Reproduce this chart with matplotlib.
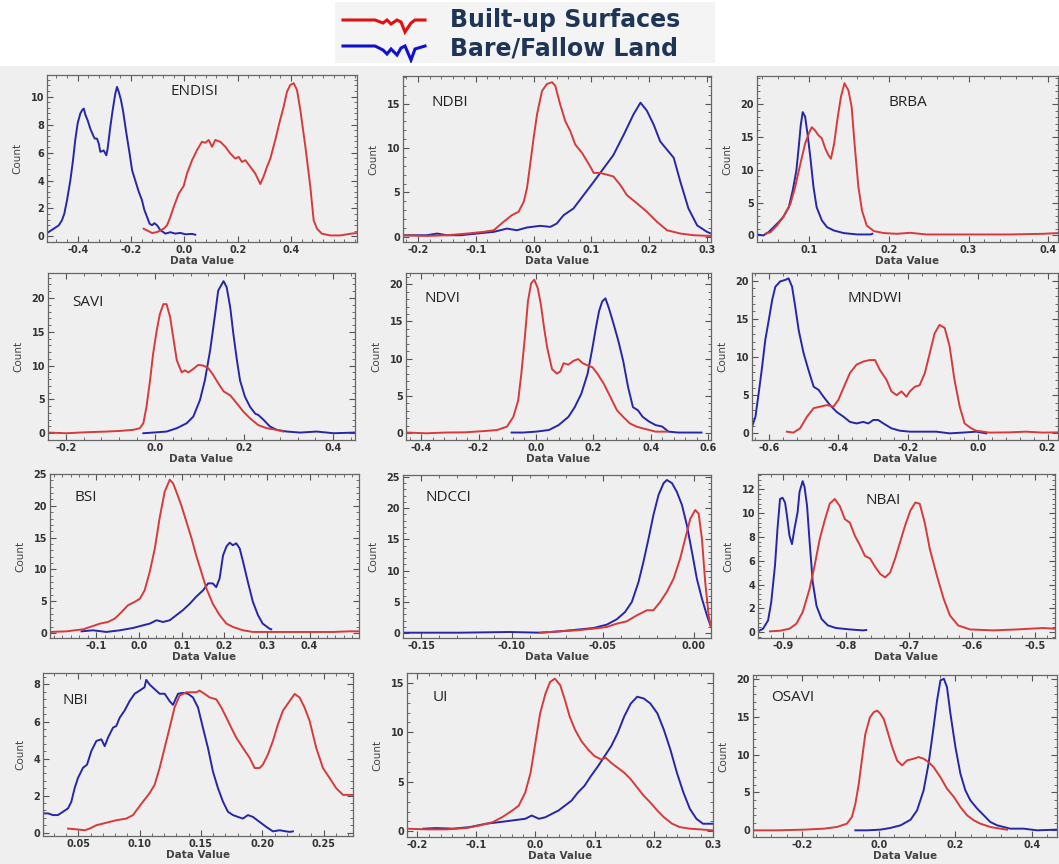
import matplotlib
matplotlib.use('Agg')
import matplotlib.pyplot as plt
from matplotlib.ticker import AutoMinorLocator, FormatStrFormatter
from matplotlib.patches import Rectangle

plt.rcParams['axes.unicode_minus'] = False

# ---------------- data (Data Value, Count) ----------------
series_names = ['Built-up Surfaces', 'Bare/Fallow Land']
index_names = ['ENDISI', 'NDBI', 'BRBA', 'SAVI', 'NDVI', 'MNDWI',
               'BSI', 'NDCCI', 'NBAI', 'NBI', 'UI', 'OSAVI']

endisi_built = [(-0.1525,0.55),(-0.14,0.43),(-0.121,0.24),(-0.1025,0.31),(-0.0775,0.55),(-0.065,0.79),(-0.0525,1.39),(-0.04,2.1),(-0.021,3.06),(-0.0025,3.6),(0.01,4.5),(0.029,5.45),(0.0475,6.17),(0.066,6.77),(0.079,6.7),(0.091,6.9),(0.104,6.41),(0.116,6.9),(0.135,6.77),(0.154,6.41),(0.1725,5.93),(0.191,5.57),(0.204,5.69),(0.216,5.33),(0.229,5.45),(0.2475,4.98),(0.266,4.5),(0.285,3.75),(0.2975,4.3),(0.31,4.98),(0.3225,5.57),(0.341,6.9),(0.3575,8.2),(0.3725,9.28),(0.385,10.36),(0.3975,10.84),(0.41,10.96),(0.4225,10.48),(0.435,9.04),(0.454,6.41),(0.4725,3.54),(0.485,1.15),(0.4975,0.55),(0.516,0.19),(0.5475,0.07),(0.585,0.07),(0.6225,0.19),(0.6475,0.24)]
endisi_bare = [(-0.515,0.24),(-0.49,0.55),(-0.471,0.79),(-0.459,1.15),(-0.45,1.63),(-0.44,2.58),(-0.4275,4.0),(-0.4175,5.45),(-0.409,6.9),(-0.4,8.1),(-0.39,8.8),(-0.3825,9.05),(-0.377,9.15),(-0.371,8.7),(-0.3625,8.3),(-0.3525,7.7),(-0.3425,7.25),(-0.336,7.0),(-0.3275,7.0),(-0.321,6.65),(-0.315,6.05),(-0.3025,6.15),(-0.2925,5.8),(-0.2875,6.3),(-0.2775,7.85),(-0.269,9.0),(-0.259,10.2),(-0.2525,10.7),(-0.246,10.35),(-0.2375,9.75),(-0.23,9.0),(-0.2175,7.4),(-0.205,5.9),(-0.196,4.75),(-0.184,4.0),(-0.171,3.2),(-0.159,2.6),(-0.15,1.9),(-0.14,1.4),(-0.13,0.9),(-0.121,0.8),(-0.1125,0.95),(-0.1025,0.8),(-0.09,0.45),(-0.071,0.2),(-0.0525,0.3),(-0.034,0.2),(-0.015,0.25),(0.004,0.15),(0.029,0.18),(0.041,0.12)]

ndbi_built = [(-0.226,0.19),(-0.185,0.11),(-0.15,0.19),(-0.115,0.38),(-0.0865,0.57),(-0.069,0.75),(-0.052,1.7),(-0.0375,2.45),(-0.026,2.83),(-0.017,3.96),(-0.0115,5.47),(-0.006,8.1),(0.0,11.1),(0.006,13.8),(0.0145,16.4),(0.023,17.2),(0.032,17.4),(0.0375,17.0),(0.046,14.9),(0.055,13.0),(0.0635,11.9),(0.072,10.4),(0.084,9.43),(0.098,7.92),(0.104,7.2),(0.115,7.2),(0.127,7.0),(0.138,6.8),(0.15,5.85),(0.1615,4.7),(0.179,3.77),(0.196,2.83),(0.2135,1.7),(0.231,0.75),(0.254,0.38),(0.277,0.19),(0.306,0.11)]
ndbi_bare = [(-0.226,0.19),(-0.185,0.19),(-0.167,0.38),(-0.15,0.19),(-0.127,0.19),(-0.098,0.38),(-0.069,0.57),(-0.046,0.94),(-0.029,0.75),(-0.0115,1.06),(0.0115,1.25),(0.029,1.13),(0.040,1.5),(0.052,2.45),(0.069,3.2),(0.0865,4.7),(0.104,6.2),(0.121,7.7),(0.138,9.2),(0.156,11.5),(0.173,13.8),(0.185,15.1),(0.196,14.2),(0.208,12.6),(0.219,10.75),(0.231,9.8),(0.2425,8.9),(0.254,6.2),(0.268,3.2),(0.283,1.3),(0.3,0.57),(0.307,0.38)]

brba_built = [(0.0445,0.25),(0.051,0.5),(0.059,1.5),(0.067,2.8),(0.076,4.8),(0.082,7.4),(0.0885,10.9),(0.0945,14.0),(0.1,15.8),(0.103,16.5),(0.107,16.0),(0.111,15.3),(0.1155,14.8),(0.12,13.2),(0.124,12.2),(0.127,11.7),(0.131,14.0),(0.135,17.6),(0.1395,21.1),(0.144,23.2),(0.149,22.1),(0.153,19.6),(0.157,13.5),(0.1615,7.4),(0.166,3.8),(0.172,1.5),(0.181,0.66),(0.1935,0.36),(0.21,0.25),(0.2265,0.4),(0.247,0.15),(0.268,0.15),(0.31,0.15),(0.352,0.15),(0.394,0.25),(0.4125,0.36)]
brba_bare = [(0.034,0.15),(0.042,0.0),(0.0485,0.5),(0.055,1.27),(0.061,2.0),(0.067,2.8),(0.074,4.3),(0.079,6.9),(0.0835,9.9),(0.0865,13.5),(0.089,16.8),(0.0915,18.8),(0.0945,18.1),(0.0975,15.5),(0.101,12.0),(0.105,7.4),(0.109,4.3),(0.1155,2.3),(0.122,1.27),(0.1305,0.76),(0.143,0.36),(0.16,0.15),(0.177,0.15),(0.179,0.25)]

savi_built = [(-0.24,0.1),(-0.1985,0.0),(-0.1535,0.15),(-0.1085,0.25),(-0.079,0.34),(-0.049,0.5),(-0.034,0.74),(-0.026,1.47),(-0.019,3.9),(-0.011,7.8),(-0.004,11.8),(0.004,15.2),(0.011,17.6),(0.019,19.1),(0.026,19.1),(0.034,17.2),(0.041,14.2),(0.049,10.8),(0.06,9.0),(0.067,9.3),(0.075,9.0),(0.086,9.5),(0.097,10.1),(0.109,10.0),(0.12,9.6),(0.131,8.6),(0.142,7.4),(0.154,6.2),(0.169,5.6),(0.184,4.4),(0.1985,3.2),(0.2135,2.2),(0.232,1.2),(0.251,0.74),(0.2735,0.5),(0.288,0.25)]
savi_bare = [(-0.026,0.0),(-0.004,0.1),(0.026,0.25),(0.049,0.74),(0.071,1.47),(0.086,2.45),(0.101,4.9),(0.112,7.8),(0.124,12.3),(0.135,17.6),(0.142,21.1),(0.154,22.5),(0.161,21.6),(0.169,18.6),(0.176,14.7),(0.184,10.8),(0.191,7.8),(0.202,5.4),(0.2135,3.9),(0.225,2.9),(0.232,2.7),(0.2435,2.0),(0.258,1.0),(0.2735,0.5),(0.296,0.25),(0.326,0.1),(0.363,0.25),(0.401,0.0),(0.449,0.1)]

ndvi_built = [(-0.451,0.1),(-0.383,0.0),(-0.316,0.1),(-0.248,0.13),(-0.18,0.3),(-0.135,0.44),(-0.101,0.9),(-0.079,2.2),(-0.062,4.4),(-0.051,8.0),(-0.039,12.8),(-0.028,17.7),(-0.017,20.1),(-0.006,20.6),(0.006,19.5),(0.017,17.3),(0.028,14.2),(0.039,11.5),(0.056,8.6),(0.073,8.0),(0.085,8.3),(0.096,9.4),(0.113,9.2),(0.13,9.7),(0.147,9.96),(0.163,9.4),(0.18,9.1),(0.197,8.85),(0.214,8.0),(0.237,6.6),(0.259,4.9),(0.282,3.1),(0.304,2.2),(0.327,1.33),(0.35,0.9),(0.372,0.66),(0.395,0.44),(0.417,0.22),(0.457,0.22)]
ndvi_bare = [(-0.085,0.1),(-0.045,0.1),(0.0,0.22),(0.045,0.44),(0.079,1.1),(0.113,2.2),(0.135,3.5),(0.158,5.3),(0.18,8.0),(0.197,11.5),(0.209,14.2),(0.22,16.4),(0.231,17.7),(0.242,18.1),(0.254,16.8),(0.271,14.6),(0.287,12.4),(0.304,9.7),(0.321,6.2),(0.338,3.5),(0.355,3.1),(0.372,2.2),(0.395,1.55),(0.417,1.1),(0.44,0.9),(0.462,0.22),(0.496,0.1),(0.577,0.1)]

mndwi_built = [(-0.548,0.22),(-0.529,0.1),(-0.51,0.66),(-0.49,2.2),(-0.471,3.3),(-0.452,3.5),(-0.433,3.7),(-0.414,3.5),(-0.4,4.4),(-0.386,5.9),(-0.367,7.9),(-0.348,9.0),(-0.329,9.4),(-0.31,9.6),(-0.295,9.6),(-0.281,8.3),(-0.262,7.0),(-0.248,5.5),(-0.233,5.0),(-0.219,5.5),(-0.205,4.8),(-0.195,5.5),(-0.181,6.1),(-0.167,6.3),(-0.152,7.9),(-0.138,10.5),(-0.124,13.1),(-0.11,14.2),(-0.095,13.8),(-0.081,11.4),(-0.067,7.0),(-0.052,3.5),(-0.038,1.3),(-0.019,0.66),(-0.005,0.35),(0.033,0.1),(0.09,0.13),(0.138,0.22),(0.186,0.1),(0.23,0.13)]
mndwi_bare = [(-0.648,0.87),(-0.638,2.2),(-0.629,5.2),(-0.619,8.7),(-0.61,12.2),(-0.6,14.8),(-0.59,17.5),(-0.581,19.2),(-0.567,19.9),(-0.552,20.1),(-0.543,20.3),(-0.533,19.2),(-0.524,16.6),(-0.514,13.5),(-0.5,10.5),(-0.486,8.3),(-0.471,6.1),(-0.457,5.7),(-0.443,4.8),(-0.424,3.7),(-0.405,2.8),(-0.386,2.2),(-0.367,1.5),(-0.348,1.3),(-0.329,1.5),(-0.314,1.3),(-0.3,1.75),(-0.286,1.75),(-0.271,1.3),(-0.248,0.66),(-0.224,0.35),(-0.195,0.22),(-0.157,0.22),(-0.119,0.22),(-0.081,0.0),(-0.043,0.1),(-0.005,0.22),(0.024,0.0)]

bsi_built = [(-0.209,0.16),(-0.17,0.26),(-0.131,0.58),(-0.108,1.1),(-0.092,1.47),(-0.073,1.73),(-0.057,2.26),(-0.041,3.3),(-0.026,4.36),(-0.01,4.9),(0.002,5.4),(0.013,6.7),(0.025,9.6),(0.037,13.3),(0.048,18.0),(0.06,22.2),(0.072,24.1),(0.08,23.5),(0.0875,22.2),(0.099,20.1),(0.111,17.5),(0.123,14.9),(0.134,12.2),(0.146,9.6),(0.158,7.0),(0.173,4.6),(0.189,2.8),(0.205,1.47),(0.22,0.95),(0.244,0.42),(0.267,0.16),(0.298,0.16),(0.377,0.16),(0.455,0.16),(0.494,0.26),(0.516,0.26)]
bsi_bare = [(-0.135,0.26),(-0.108,0.42),(-0.077,0.16),(-0.045,0.42),(-0.014,0.79),(0.009,1.2),(0.025,1.47),(0.041,2.0),(0.056,1.73),(0.072,2.0),(0.0875,2.8),(0.103,3.6),(0.119,4.6),(0.134,5.7),(0.15,6.7),(0.162,7.8),(0.173,7.8),(0.181,7.2),(0.189,8.6),(0.197,12.2),(0.205,13.6),(0.2125,14.2),(0.22,13.8),(0.228,14.1),(0.236,13.3),(0.244,11.2),(0.255,8.1),(0.267,4.9),(0.279,2.8),(0.29,1.47),(0.306,0.68),(0.31,0.58)]

ndcci_built = [(-0.0846,0.05),(-0.0735,0.27),(-0.0643,0.43),(-0.0551,0.7),(-0.0478,0.96),(-0.0423,1.5),(-0.0368,1.87),(-0.0312,2.83),(-0.0257,3.64),(-0.0221,3.64),(-0.0184,4.97),(-0.0147,6.6),(-0.011,8.7),(-0.0074,11.9),(-0.0046,15.1),(-0.0018,18.3),(0.0009,19.7),(0.0028,19.1),(0.0046,15.1),(0.0064,8.2),(0.0083,2.8),(0.0096,0.96)]
ndcci_bare = [(-0.16,0.05),(-0.1287,0.05),(-0.1011,0.16),(-0.0846,0.05),(-0.0735,0.27),(-0.0643,0.53),(-0.0551,0.8),(-0.0478,1.34),(-0.0423,2.19),(-0.0377,3.37),(-0.034,4.97),(-0.0303,8.18),(-0.0276,11.4),(-0.0248,15.1),(-0.0221,18.9),(-0.0193,22.1),(-0.0165,24.0),(-0.0147,24.5),(-0.0119,24.0),(-0.0092,22.6),(-0.0064,20.5),(-0.0037,17.3),(-0.0009,13.0),(0.0018,8.7),(0.0046,5.5),(0.0074,2.8),(0.0096,0.96)]

nbai_built = [(-0.921,0.06),(-0.905,0.11),(-0.89,0.28),(-0.879,0.7),(-0.869,1.68),(-0.858,3.64),(-0.85,5.6),(-0.842,7.8),(-0.834,9.4),(-0.826,10.8),(-0.818,11.2),(-0.81,10.6),(-0.802,9.5),(-0.794,9.2),(-0.786,8.1),(-0.778,7.3),(-0.77,6.4),(-0.762,6.2),(-0.754,5.5),(-0.746,4.9),(-0.738,4.6),(-0.73,5.0),(-0.722,6.2),(-0.714,7.6),(-0.706,9.0),(-0.698,10.2),(-0.69,10.9),(-0.683,10.8),(-0.675,9.2),(-0.667,7.0),(-0.656,4.8),(-0.645,2.8),(-0.635,1.4),(-0.622,0.56),(-0.603,0.22),(-0.566,0.14),(-0.529,0.22),(-0.487,0.34),(-0.468,0.28)]
nbai_bare = [(-0.94,0.06),(-0.932,0.28),(-0.924,0.98),(-0.919,2.5),(-0.913,5.6),(-0.909,8.7),(-0.905,11.2),(-0.901,11.3),(-0.897,10.9),(-0.894,9.8),(-0.89,8.1),(-0.886,7.4),(-0.882,8.7),(-0.877,10.1),(-0.874,11.8),(-0.869,12.7),(-0.866,12.2),(-0.862,10.6),(-0.858,7.6),(-0.853,4.2),(-0.847,2.2),(-0.839,1.1),(-0.829,0.56),(-0.816,0.34),(-0.794,0.22),(-0.773,0.14),(-0.768,0.17)]

nbi_built = [(0.0416,0.22),(0.0484,0.18),(0.0552,0.13),(0.0592,0.22),(0.0647,0.4),(0.0701,0.49),(0.0755,0.58),(0.081,0.67),(0.0891,0.76),(0.0946,0.95),(0.0986,1.31),(0.1027,1.67),(0.1081,2.13),(0.1122,2.58),(0.1163,3.49),(0.1204,4.58),(0.1245,5.67),(0.1285,6.76),(0.1326,7.4),(0.1381,7.58),(0.1421,7.58),(0.1462,7.58),(0.1489,7.67),(0.153,7.49),(0.1571,7.3),(0.1625,7.2),(0.1666,6.76),(0.1707,6.22),(0.1747,5.67),(0.1788,5.13),(0.1842,4.58),(0.1897,4.04),(0.1938,3.49),(0.1978,3.49),(0.2005,3.67),(0.2046,4.22),(0.2087,4.95),(0.2128,5.85),(0.2168,6.58),(0.2223,7.1),(0.2264,7.49),(0.2304,7.3),(0.2345,6.76),(0.2386,6.04),(0.244,4.58),(0.2495,3.49),(0.2549,2.95),(0.2603,2.4),(0.2658,2.04),(0.274,2.04)]
nbi_bare = [(0.0212,1.04),(0.0253,1.04),(0.0293,0.95),(0.0334,0.95),(0.0375,1.13),(0.0416,1.31),(0.0443,1.67),(0.047,2.4),(0.0497,2.95),(0.0538,3.5),(0.0571,3.67),(0.0606,4.4),(0.0647,4.95),(0.0688,5.04),(0.0715,4.67),(0.0742,5.13),(0.0783,5.67),(0.081,5.76),(0.0837,6.2),(0.0878,6.6),(0.0918,7.1),(0.0959,7.5),(0.1,7.67),(0.104,7.85),(0.1054,8.25),(0.1081,8.0),(0.1122,7.75),(0.1163,7.5),(0.1204,7.5),(0.1245,7.1),(0.1272,6.9),(0.1313,7.5),(0.1353,7.55),(0.1394,7.5),(0.1435,7.3),(0.1476,6.76),(0.1516,5.67),(0.1557,4.58),(0.1598,3.3),(0.1639,2.4),(0.168,1.67),(0.172,1.13),(0.1761,0.95),(0.1802,0.85),(0.1842,0.76),(0.1883,0.95),(0.1924,0.85),(0.1978,0.58),(0.2033,0.31),(0.2087,0.07),(0.2141,0.13),(0.2223,0.04),(0.225,0.07)]

ui_built = [(-0.2167,0.27),(-0.183,0.2),(-0.15,0.2),(-0.117,0.33),(-0.094,0.6),(-0.072,0.93),(-0.056,1.43),(-0.039,2.1),(-0.028,2.6),(-0.017,3.93),(-0.008,5.93),(0.0,8.93),(0.008,11.9),(0.017,13.9),(0.025,15.1),(0.033,15.43),(0.042,14.77),(0.05,13.27),(0.058,11.6),(0.067,10.27),(0.078,9.1),(0.089,8.27),(0.1,7.6),(0.111,7.27),(0.119,7.43),(0.128,6.93),(0.139,6.43),(0.15,5.93),(0.161,5.27),(0.172,4.43),(0.183,3.6),(0.194,2.93),(0.206,2.1),(0.217,1.43),(0.231,0.77),(0.244,0.43),(0.261,0.27),(0.278,0.2),(0.3,0.1)]
ui_bare = [(-0.189,0.27),(-0.167,0.33),(-0.139,0.27),(-0.111,0.43),(-0.083,0.77),(-0.061,0.93),(-0.039,1.1),(-0.017,1.27),(-0.006,1.6),(0.006,1.27),(0.017,1.43),(0.028,1.77),(0.039,2.1),(0.05,2.6),(0.061,3.1),(0.072,3.93),(0.083,4.6),(0.094,5.6),(0.106,6.6),(0.117,7.6),(0.128,8.6),(0.139,9.93),(0.15,11.6),(0.161,12.9),(0.172,13.6),(0.183,13.43),(0.194,12.93),(0.206,11.93),(0.217,10.27),(0.228,8.27),(0.239,5.93),(0.25,3.93),(0.261,2.27),(0.272,1.27),(0.283,0.77),(0.3,0.77)]

osavi_built = [(-0.328,0.0),(-0.265,0.0),(-0.196,0.09),(-0.143,0.22),(-0.109,0.44),(-0.083,0.88),(-0.07,1.76),(-0.061,3.5),(-0.052,6.15),(-0.043,9.67),(-0.035,12.7),(-0.023,14.9),(-0.013,15.6),(-0.004,15.8),(0.004,15.4),(0.013,14.7),(0.022,13.2),(0.035,11.0),(0.048,9.2),(0.061,8.57),(0.074,9.23),(0.091,9.45),(0.104,9.67),(0.117,9.45),(0.13,9.0),(0.143,8.35),(0.161,7.0),(0.178,5.5),(0.196,4.4),(0.213,3.08),(0.23,2.0),(0.248,1.32),(0.265,0.88),(0.291,0.44),(0.317,0.22),(0.335,0.09)]
osavi_bare = [(-0.061,0.0),(-0.03,0.0),(0.004,0.09),(0.03,0.31),(0.057,0.66),(0.083,1.4),(0.1,2.64),(0.117,5.27),(0.13,8.8),(0.143,13.6),(0.152,17.1),(0.161,19.8),(0.17,20.0),(0.178,18.9),(0.187,15.4),(0.2,11.0),(0.213,7.47),(0.226,5.27),(0.239,3.96),(0.257,2.86),(0.274,1.98),(0.291,1.1),(0.309,0.66),(0.326,0.44),(0.343,0.22),(0.378,0.22),(0.413,0.0),(0.465,0.09)]

built_series = [endisi_built, ndbi_built, brba_built, savi_built, ndvi_built, mndwi_built,
                bsi_built, ndcci_built, nbai_built, nbi_built, ui_built, osavi_built]
bare_series = [endisi_bare, ndbi_bare, brba_bare, savi_bare, ndvi_bare, mndwi_bare,
               bsi_bare, ndcci_bare, nbai_bare, nbi_bare, ui_bare, osavi_bare]

x_ticks = [[-0.4, -0.2, 0.0, 0.2, 0.4], [-0.2, -0.1, 0.0, 0.1, 0.2, 0.3], [0.1, 0.2, 0.3, 0.4],
           [-0.2, 0.0, 0.2, 0.4], [-0.4, -0.2, 0.0, 0.2, 0.4, 0.6], [-0.6, -0.4, -0.2, 0.0, 0.2],
           [-0.1, 0.0, 0.1, 0.2, 0.3, 0.4], [-0.15, -0.10, -0.05, 0.00], [-0.9, -0.8, -0.7, -0.6, -0.5],
           [0.05, 0.10, 0.15, 0.20, 0.25], [-0.2, -0.1, 0.0, 0.1, 0.2, 0.3], [-0.2, 0.0, 0.2, 0.4]]
y_ticks = [[0, 2, 4, 6, 8, 10], [0, 5, 10, 15], [0, 5, 10, 15, 20],
           [0, 5, 10, 15, 20], [0, 5, 10, 15, 20], [0, 5, 10, 15, 20],
           [0, 5, 10, 15, 20, 25], [0, 5, 10, 15, 20, 25], [0, 2, 4, 6, 8, 10, 12],
           [0, 2, 4, 6, 8], [0, 5, 10, 15], [0, 5, 10, 15, 20]]

# ---------------- layout / style ----------------
W, H = 1059, 864
RED = '#d63a3a'
BLUE = '#2626a8'
BG = '#efefef'
TXT = '#333333'

# axes rectangles in pixels: left, top, right, bottom
rects_px = [(47, 75, 357, 242), (403, 76, 711, 242), (757, 76, 1058, 242),
            (48, 273, 355, 440), (406, 273, 711, 440), (752, 273, 1058, 440),
            (50, 474, 359, 638), (403, 475, 711, 638), (758, 474, 1055, 638),
            (43, 673, 353, 836), (407, 673, 713, 837), (753, 675, 1057, 837)]
xlims = [(-0.515, 0.6475), (-0.226, 0.307), (0.034, 0.4125),
         (-0.24, 0.449), (-0.453, 0.61), (-0.648, 0.23),
         (-0.209, 0.516), (-0.160, 0.0096), (-0.94, -0.468),
         (0.0212, 0.274), (-0.2167, 0.3), (-0.328, 0.465)]
ylims = [(-0.4, 11.55), (-0.57, 18.1), (-1.0, 24.3),
         (-1.0, 23.7), (-0.9, 21.5), (-0.87, 21.0),
         (-0.79, 25.0), (-0.8, 25.3), (-0.5, 13.3),
         (-0.18, 8.62), (-0.57, 16.0), (-0.88, 20.5)]
fmts = ['%.1f', '%.1f', '%.1f', '%.1f', '%.1f', '%.1f', '%.1f', '%.2f', '%.1f', '%.2f', '%.1f', '%.1f']
title_pos = [(0.474, 0.90), (0.152, 0.84), (0.50, 0.84),
             (0.13, 0.825), (0.118, 0.85), (0.40, 0.85),
             (0.117, 0.855), (0.146, 0.86), (0.42, 0.84),
             (0.103, 0.83), (0.11, 0.85), (0.13, 0.86)]

fig = plt.figure(figsize=(W / 100, H / 100), dpi=100)
fig.patch.set_facecolor('white')
fig.add_artist(Rectangle((0, 0), 1, 1 - 66 / H, transform=fig.transFigure,
                         facecolor=BG, edgecolor='none', zorder=-10))

for i in range(12):
    l, t, r, b = rects_px[i]
    ax = fig.add_axes([l / W, 1 - b / H, (r - l) / W, (b - t) / H])
    ax.set_facecolor(BG)
    bx, by = zip(*bare_series[i])
    rx, ry = zip(*built_series[i])
    ax.plot(bx, by, color=BLUE, lw=1.4, solid_joinstyle='round')
    ax.plot(rx, ry, color=RED, lw=1.4, solid_joinstyle='round')
    ax.set_xlim(*xlims[i])
    ax.set_ylim(*ylims[i])
    ax.set_xticks(x_ticks[i])
    ax.set_yticks(y_ticks[i])
    ax.xaxis.set_major_formatter(FormatStrFormatter(fmts[i]))
    ax.xaxis.set_minor_locator(AutoMinorLocator(5))
    ax.yaxis.set_minor_locator(AutoMinorLocator(5))
    ax.tick_params(which='both', direction='in', top=True, right=True, colors='#555555')
    ax.tick_params(which='major', length=4, width=0.8, labelsize=7, labelcolor=TXT, pad=2)
    ax.tick_params(which='minor', length=2, width=0.6)
    for lab in ax.get_xticklabels() + ax.get_yticklabels():
        lab.set_fontweight('bold')
    for sp in ax.spines.values():
        sp.set_color('#666666')
        sp.set_linewidth(0.9)
    ax.set_xlabel('Data Value', fontsize=7.5, fontweight='bold', color='#444444', labelpad=1)
    ax.set_ylabel('Count', fontsize=7.5, color='#444444', labelpad=6)
    tx, ty = title_pos[i]
    ax.text(tx, ty, index_names[i], transform=ax.transAxes, ha='center', va='center',
            fontsize=11, color='#222222', family='Open Sans')

# ---------------- legend ----------------
lax = fig.add_axes([335 / W, 1 - 63 / H, 380 / W, 61 / H])
lax.set_facecolor('#f4f4f4')
for sp in lax.spines.values():
    sp.set_visible(False)
lax.set_xticks([])
lax.set_yticks([])
lax.set_xlim(0, 380)
lax.set_ylim(61, 0)
icon_x = [8, 40, 48, 52, 56, 62, 66, 70, 76, 80, 90]
icon_built_y = [0, 0, 3, 0, 4, 0, 2, 12, 3, 0, 0]
icon_bare_y = [0, 0, 4, 8, 3, 9, 2, 0, 14, 3, 0]
lax.plot(icon_x, [18 + v for v in icon_built_y], color='#e01010', lw=2.2, solid_joinstyle='miter')
lax.plot(icon_x, [44 + v for v in icon_bare_y], color='#1010d0', lw=2.2, solid_joinstyle='miter')
lax.text(115, 18, series_names[0], fontsize=17, fontweight='bold', color='#1f3556',
         va='center', ha='left', family='DejaVu Sans')
lax.text(115, 47, series_names[1], fontsize=17, fontweight='bold', color='#1f3556',
         va='center', ha='left', family='DejaVu Sans')

fig.savefig('out.png', dpi=100, facecolor=fig.get_facecolor())
